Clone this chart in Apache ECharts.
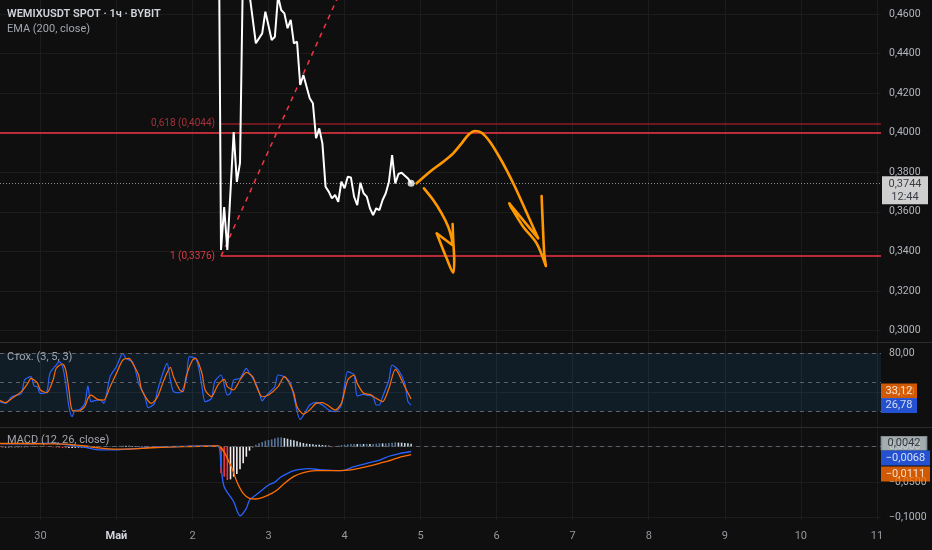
<!DOCTYPE html>
<html><head><meta charset="utf-8">
<script src="https://cdn.jsdelivr.net/npm/echarts@6/dist/echarts.min.js"></script>
<style>html,body{margin:0;padding:0;background:#0f0f0f}#c{width:932px;height:550px}</style>
</head><body><div id="c"></div>
<script>
// ---- axis ticks / labels ----
const dayLabels = ['30','Май','2','3','4','5','6','7','8','9','10','11'];
const priceTicks = [0.30,0.32,0.34,0.36,0.38,0.40,0.42,0.44,0.46];
const stochTicks = [40, 80];
const macdTicks = [-0.1, -0.05, 0];

// ---- price (hours since 30 Apr 00:00, close) ----
const priceHours = [56,57,58,59,61,62,63,64,65,66,68,70,71,73,74,75,76,77,78,79,80,81,82,83,85,86,87,88,89,90,91,92,93,94,95,96,97,98,99,100,101,102,103,104,105,106,107,108,109,110,111,112,113,114,116,117];
const priceClose = [0.58,0.3407,0.3624,0.3407,0.4003,0.3751,0.3847,0.49,0.50,0.47,0.4452,0.4502,0.4612,0.4469,0.4485,0.469,0.462,0.4603,0.4528,0.457,0.4452,0.446,0.4241,0.4292,0.4174,0.4149,0.3972,0.4022,0.3946,0.3727,0.3702,0.3668,0.3685,0.3651,0.3752,0.3719,0.3777,0.3774,0.3677,0.3634,0.3747,0.3694,0.3677,0.3618,0.3584,0.3618,0.3609,0.366,0.3694,0.3752,0.3887,0.3744,0.3791,0.3798,0.3769,0.3744];
const priceTimer = '12:44';

// ---- drawings ----
const horizLevel = 0.4000;
const fibStartHour = 57;
const fibLevels = [{name:'0,618', value:0.4044}, {name:'1', value:0.3376}];
const fibTrend = [[57, 0.3376], [97, 0.4796]];
const arrowBig = [[118.74,0.37441],[122.94,0.38027],[127.14,0.38533],[130.29,0.38957],[132.94,0.39463],[135.03,0.39883],[137.14,0.40085],[139.26,0.39999],[141.87,0.39544],[144.49,0.38872],[147.14,0.38113],[149.76,0.37269],[152.38,0.36344],[154.50,0.35586],[157.12,0.34660],[147.97,0.36430],[148.5,0.36243],[152.38,0.35247],[156.61,0.34408],[159.54,0.33260],[159.01,0.33902],[158.50,0.35586],[158.19,0.36799]];
const arrowSmall = [[121.05,0.37188],[123.98,0.36597],[126.63,0.35924],[128.71,0.35247],[129.79,0.34660],[129.98,0.34321],[125.06,0.34913],[125.46,0.34751],[128.21,0.33649],[130.29,0.32921],[130.61,0.33563],[130.29,0.34575],[130.10,0.35383]];

// ---- stochastic ----
const stochK = [[-13,30.3],[-11,28.6],[-9,35.4],[-6,38.9],[-5,52.6],[-3,56.0],[-2,46.4],[-1,45.7],[0,38.9],[2,40.6],[3,59.4],[5,68.0],[6,71.4],[7,66.3],[8,49.1],[9,25.2],[10,14.9],[11,21.7],[12,21.7],[14,28.6],[15,46.7],[16,30.3],[18,32.0],[19,32.0],[20,28.6],[22,56.0],[24,66.3],[26,80.0],[27,74.8],[29,71.4],[30,62.8],[31,49.1],[33,35.4],[34,24.1],[36,28.6],[37,42.3],[39,62.8],[40,69.7],[41,52.6],[42,40.6],[44,39.5],[46,52.6],[47,76.5],[49,74.8],[50,64.6],[51,45.7],[52,30.3],[54,33.7],[55,50.8],[57,57.7],[59,37.2],[60,38.9],[61,52.6],[63,54.3],[65,64.6],[66,59.4],[68,49.1],[69,40.6],[70,31.0],[71,35.4],[73,42.3],[74,45.7],[75,57.7],[77,56.0],[79,49.1],[80,35.4],[82,12.1],[84,21.7],[85,26.9],[87,29.6],[89,26.9],[91,21.7],[93,20.0],[95,26.9],[97,61.1],[99,57.7],[100,36.1],[102,37.8],[103,37.1],[105,35.4],[106,26.9],[107,26.9],[108,35.4],[110,52.6],[111,68.0],[113,62.8],[115,49.1],[116,30.3],[117,26.78]];
const stochD = [[-13,32.0],[-11,29.3],[-9,33.7],[-6,40.6],[-4,49.1],[-3,54.3],[-1,49.8],[0,42.3],[2,39.5],[4,52.6],[5,64.6],[7,69.0],[8,62.8],[9,42.3],[10,21.7],[12,20.7],[14,25.2],[15,33.7],[16,37.1],[18,32.7],[20,32.0],[22,45.7],[24,59.4],[26,73.1],[28,74.8],[29,70.4],[31,57.7],[32,42.3],[35,28.6],[37,35.4],[39,52.6],[41,65.6],[42,56.0],[44,42.3],[45,40.6],[46,56.0],[48,73.1],[49,74.8],[51,59.4],[52,42.3],[54,35.4],[56,47.4],[58,53.2],[59,45.7],[61,42.3],[63,52.6],[65,60.4],[67,56.0],[68,47.4],[70,35.4],[72,37.1],[75,45.7],[77,56.0],[78,52.6],[80,38.9],[81,25.2],[83,17.6],[85,21.7],[87,28.6],[89,29.3],[91,25.8],[93,21.7],[95,28.6],[97,52.6],[99,57.7],[100,49.1],[102,38.9],[104,37.8],[106,33.7],[108,30.3],[110,44.0],[112,63.5],[113,59.4],[115,45.7],[117,33.12]];
const stochBands = [20, 50, 80];

// ---- MACD ----
const macdLine = [[-13,0.0045],[-6,0.004],[3,0.005],[8,0.003],[14,-0.001],[19,-0.0045],[24,-0.0045],[29,-0.003],[35,-0.001],[45,0.0005],[50,0.001],[56,0.001],[57,-0.028],[58,-0.0565],[61,-0.0777],[63,-0.0975],[65,-0.087],[66,-0.0753],[68,-0.0682],[70,-0.0612],[72,-0.0541],[74,-0.050],[76,-0.0424],[78,-0.0376],[80,-0.0339],[82,-0.0319],[85,-0.0311],[88,-0.0325],[92,-0.0335],[95,-0.0339],[99,-0.0282],[103,-0.0235],[107,-0.0188],[110,-0.0135],[113,-0.0100],[117,-0.0068]];
const macdSignal = [[-13,0.0045],[-6,0.0045],[3,0.004],[8,0.0035],[14,0.001],[19,-0.002],[24,-0.0035],[29,-0.003],[35,-0.0015],[45,0.0],[50,0.0005],[56,0.001],[60,-0.0258],[62,-0.0494],[64,-0.0658],[66,-0.0729],[68,-0.0739],[70,-0.072],[73,-0.066],[75,-0.06],[77,-0.052],[80,-0.042],[83,-0.0365],[87,-0.0339],[92,-0.0339],[96,-0.0335],[99,-0.0319],[103,-0.0282],[107,-0.0235],[111,-0.0185],[114,-0.0141],[117,-0.0111]];
const histStartHour = -13;
const macdHist = [-0.0012,-0.0013,-0.0012,-0.0010,
 -0.0009,-0.0008,-0.0008,-0.0007,-0.0007,-0.0006,-0.0006,-0.0005,-0.0005,-0.0004,
 -0.0004,-0.0005,-0.0006,-0.0008,-0.0011,
 -0.0015,-0.0018,-0.0020,-0.0019,-0.0017,-0.0015,
 -0.0013,-0.0012,-0.0011,-0.0010,-0.0008,-0.0007,
 -0.0005,-0.0003,-0.0002,0.0002,0.0005,
 0.0008,0.0011,0.0013,0.0014,0.0013,0.0012,0.0010,0.0008,
 0.0007,0.0006,0.0006,0.0005,0.0005,0.0004,0.0004,0.0004,0.0003,0.0003,0.0004,0.0004,0.0005,0.0005,0.0004,0.0004,0.0003,
 0.0003,0.0003,0.0004,0.0004,0.0003,0.0003,0.0002,0.0002,0.0002,
 -0.0376,-0.0423,-0.047,-0.0461,-0.0423,-0.0386,-0.032,-0.0235,-0.0141,-0.0056,-0.0009,
 0.0029,0.0048,0.0066,0.0085,0.0095,0.0104,0.0118,0.0130,0.0132,0.0123,0.0113,0.0099,0.009,0.0076,0.0062,0.0052,0.0043,0.0038,0.0033,0.0029,0.0028,0.0024,0.0019,0.0015,
 -0.0008,-0.0005,
 0.0015,0.0024,0.0029,0.0033,0.0038,0.0039,0.0038,0.0039,0.0038,0.0039,0.0038,0.0039,0.0043,0.0048,0.0047,0.0048,0.0052,0.0057,0.0062,0.0058,0.0057,0.0052,0.0048,0.0042];

// ---- layout constants ----
const xMin = -12.75, xMax = 265.3;
const BG = '#0f0f0f', GRID = '#1c1c1c', TXT = '#b2b5be';
const FONT = 'Roboto, "Noto Sans", sans-serif';
const BLUE = '#2962ff', ORANGE = '#ff6d00', RED = '#f23645', DRAW = '#ff9800';

const comma = (v, d) => (v < 0 ? '\u2212' : '') + Math.abs(v).toFixed(d).replace('.', ',');
const dayTicks = dayLabels.map((_, i) => i * 24);

function xAxisFor(i, show) {
  return {
    type: 'value', gridIndex: i, min: xMin, max: xMax,
    axisLine: {show: false},
    axisTick: {show: false, customValues: dayTicks},
    axisLabel: {
      show: show, customValues: dayTicks, margin: 11, color: '#9598a1', fontSize: 11, fontFamily: FONT,
      formatter: v => { const k = Math.round(v / 24); const t = dayLabels[k] || ''; return k === 1 ? '{b|' + t + '}' : t; },
      rich: {b: {color: '#d1d4dc', fontWeight: 'bold', fontSize: 11, fontFamily: FONT}}
    },
    splitLine: {show: true, lineStyle: {color: GRID, width: 1}}
  };
}
function yAxisFor(i, min, max, ticks, fmt) {
  return {
    type: 'value', gridIndex: i, position: 'right', min: min, max: max,
    axisLine: {show: false},
    axisTick: {show: false, customValues: ticks},
    axisLabel: {customValues: ticks, color: TXT, fontSize: 10.5, fontFamily: FONT, margin: 8, formatter: fmt},
    splitLine: {show: true, lineStyle: {color: GRID, width: 1}}
  };
}

const lastPrice = priceClose[priceClose.length - 1];
const lastHour = priceHours[priceHours.length - 1];
const lastK = stochK[stochK.length - 1][1], lastD = stochD[stochD.length - 1][1];
const lastMacd = macdLine[macdLine.length - 1][1], lastSig = macdSignal[macdSignal.length - 1][1];
const lastHist = macdHist[macdHist.length - 1];

function tag(xi, yi, value, text, fill, textColor, size, offset, border) {
  return {
    type: 'scatter', xAxisIndex: xi, yAxisIndex: yi, clip: false, silent: true, z: 10,
    symbol: 'rect', symbolSize: size, symbolOffset: offset,
    itemStyle: {color: fill, borderColor: border || fill, borderWidth: border ? 1 : 0},
    label: {show: true, position: 'inside', formatter: text, color: textColor, fontSize: 11, fontFamily: FONT, lineHeight: 13},
    data: [[xMax, value]]
  };
}

const histColors = macdHist.map((v, i) => {
  const p = i > 0 ? macdHist[i - 1] : v;
  if (v >= 0) return v >= p ? '#56759a' : '#c7d9e6';
  return v < p ? RED : '#f5eded';
});

const titleStyle = (c, w) => ({color: c, fontSize: 11, fontWeight: w, fontFamily: FONT});

const chart = echarts.init(document.getElementById('c'), null, {renderer: 'canvas'});
chart.setOption({
  backgroundColor: BG,
  animation: false,
  title: [
    {text: 'WEMIXUSDT SPOT · 1ч · BYBIT', left: 7, top: 9, padding: 0, textStyle: titleStyle('#d1d4dc', 600)},
    {text: 'EMA (200, close)', left: 7, top: 24, padding: 0, textStyle: titleStyle('#a3a6af', 'normal')},
    {text: 'Стох. (3, 5, 3)', left: 7, top: 352, padding: 0, textStyle: titleStyle('#a3a6af', 'normal')},
    {text: 'MACD (12, 26, close)', left: 7, top: 435, padding: 0, textStyle: titleStyle('#a3a6af', 'normal')}
  ],
  grid: [
    {left: 0, right: 51, top: 0, height: 342},
    {left: 0, right: 51, top: 343, height: 84},
    {left: 0, right: 51, top: 428, height: 92}
  ],
  xAxis: [xAxisFor(0, false), xAxisFor(1, false), xAxisFor(2, true)],
  yAxis: [
    yAxisFor(0, 0.29419, 0.46708, priceTicks, v => comma(v, 4)),
    yAxisFor(1, 4.3, 90.6, stochTicks, v => comma(v, 2)),
    yAxisFor(2, -0.10353, 0.02641, macdTicks, v => comma(v, 4))
  ],
  graphic: [
    {type: 'line', shape: {x1: 0, y1: 342.5, x2: 932, y2: 342.5}, style: {stroke: '#2c2c2c', lineWidth: 1}, silent: true},
    {type: 'line', shape: {x1: 0, y1: 427.5, x2: 932, y2: 427.5}, style: {stroke: '#2c2c2c', lineWidth: 1}, silent: true}
  ],
  series: [
    // stoch
    {
      type: 'line', xAxisIndex: 1, yAxisIndex: 1, data: stochK, showSymbol: false, smooth: 0.25,
      lineStyle: {color: BLUE, width: 1.2}, z: 3,
      markArea: {silent: true, itemStyle: {color: 'rgba(33,150,243,0.1)'}, data: [[{yAxis: stochBands[0]}, {yAxis: stochBands[2]}]]},
      markLine: {silent: true, symbol: 'none', precision: 4, label: {show: false},
        lineStyle: {color: '#5d606b', type: [4, 4], width: 1}, data: stochBands.map(b => ({yAxis: b}))}
    },
    {type: 'line', xAxisIndex: 1, yAxisIndex: 1, data: stochD, showSymbol: false, smooth: 0.25, lineStyle: {color: ORANGE, width: 1.2}, z: 4},
    // macd
    {
      type: 'bar', xAxisIndex: 2, yAxisIndex: 2, barWidth: 1.6,
      data: macdHist.map((v, i) => ({value: [histStartHour + i, v], itemStyle: {color: histColors[i]}})),
      markLine: {silent: true, symbol: 'none', precision: 6, label: {show: false}, lineStyle: {color: '#5d606b', type: [4, 4], width: 1}, data: [{yAxis: 0}]}
    },
    {type: 'line', xAxisIndex: 2, yAxisIndex: 2, data: macdLine, showSymbol: false, smooth: 0.3, lineStyle: {color: BLUE, width: 1.3}, z: 3},
    {type: 'line', xAxisIndex: 2, yAxisIndex: 2, data: macdSignal, showSymbol: false, smooth: 0.3, lineStyle: {color: ORANGE, width: 1.3}, z: 4},
    // price
    {
      type: 'line', xAxisIndex: 0, yAxisIndex: 0, data: priceHours.map((h, i) => [h, priceClose[i]]),
      showSymbol: false, lineStyle: {color: '#ffffff', width: 2}, z: 5,
      markLine: {
        silent: true, symbol: 'none', precision: 6,
        data: [
          {yAxis: horizLevel, lineStyle: {color: RED, width: 1.5, type: 'solid'}, label: {show: false}},
          {yAxis: lastPrice, lineStyle: {color: '#8a8d96', width: 1, type: [1, 2]}, label: {show: false}},
          [{coord: [fibStartHour, fibLevels[0].value], lineStyle: {color: '#8e1c26', width: 1.5, type: 'solid'},
            label: {show: true, position: 'start', distance: 6, formatter: fibLevels[0].name + ' (' + comma(fibLevels[0].value, 4) + ')', color: '#a8303a', fontSize: 10, fontFamily: FONT}},
           {coord: [xMax, fibLevels[0].value]}],
          [{coord: [fibStartHour, fibLevels[1].value], lineStyle: {color: RED, width: 1.5, type: 'solid'},
            label: {show: true, position: 'start', distance: 6, formatter: fibLevels[1].name + ' (' + comma(fibLevels[1].value, 4) + ')', color: '#d83a46', fontSize: 10, fontFamily: FONT}},
           {coord: [xMax, fibLevels[1].value]}]
        ]
      }
    },
    {type: 'line', xAxisIndex: 0, yAxisIndex: 0, data: fibTrend, showSymbol: false, lineStyle: {color: RED, width: 1.5, type: [5, 5]}, z: 4},
    {type: 'scatter', xAxisIndex: 0, yAxisIndex: 0, data: [[lastHour, lastPrice]], symbolSize: 7, itemStyle: {color: '#ffffff'}, z: 6},
    {type: 'line', xAxisIndex: 0, yAxisIndex: 0, data: arrowBig, showSymbol: false, smooth: 0.3, lineStyle: {color: DRAW, width: 2.6, cap: 'round', join: 'round'}, z: 7},
    {type: 'line', xAxisIndex: 0, yAxisIndex: 0, data: arrowSmall, showSymbol: false, smooth: 0.3, lineStyle: {color: DRAW, width: 2.6, cap: 'round', join: 'round'}, z: 7},
    // tags
    tag(0, 0, lastPrice, comma(lastPrice, 4) + '\n' + priceTimer, '#ffffff', '#131722', [46, 28], [24, 7]),
    tag(1, 1, lastD, comma(lastD, 2), ORANGE, '#ffffff', [36, 15], [18, -8]),
    tag(1, 1, lastK, comma(lastK, 2), BLUE, '#ffffff', [36, 15], [18, 0.5]),
    tag(2, 2, lastHist, comma(lastHist, 4), '#c9d3d6', '#131722', [45, 14], [23, -0.5], '#8da0a8'),
    tag(2, 2, lastMacd, comma(lastMacd, 4), BLUE, '#ffffff', [49, 15], [24.5, 6.5]),
    tag(2, 2, lastSig, comma(lastSig, 4), ORANGE, '#ffffff', [49, 15], [24.5, 19.5])
  ]
});
</script>
</body></html>
